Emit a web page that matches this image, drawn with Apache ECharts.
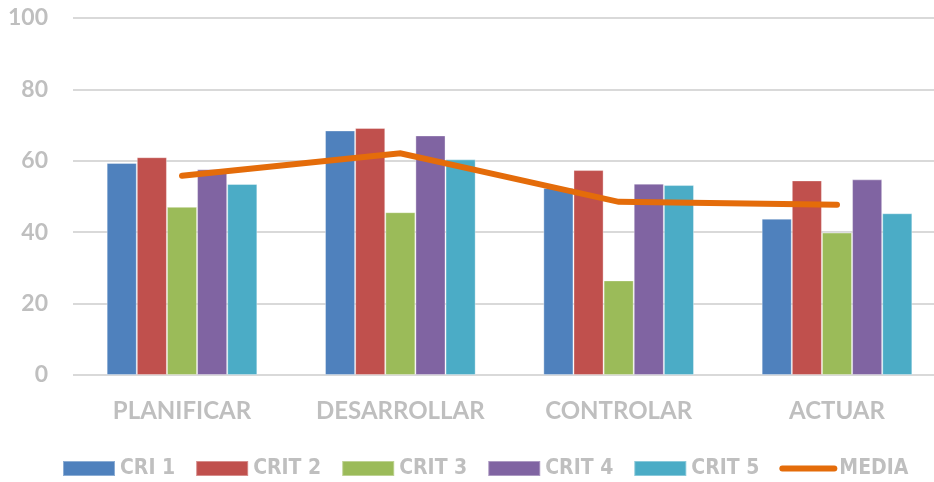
<!DOCTYPE html>
<html>
<head>
<meta charset="utf-8">
<script src="https://cdn.jsdelivr.net/npm/echarts@6/dist/echarts.min.js"></script>
<style>
html,body{margin:0;padding:0;background:#fff;}
#chart{width:934px;height:482px;}
</style>
</head>
<body>
<div id="chart"></div>
<script>
const categories = ['PLANIFICAR', 'DESARROLLAR', 'CONTROLAR', 'ACTUAR'];
const cri1 = [59.4, 68.5, 52.4, 43.8];
const crit2 = [61.0, 69.2, 57.4, 54.5];
const crit3 = [47.1, 45.6, 26.5, 39.9];
const crit4 = [57.6, 67.1, 53.6, 54.8];
const crit5 = [53.5, 60.4, 53.2, 45.3];
const media = [55.8, 62.1, 48.5, 47.7];
const seriesNames = ['CRI 1', 'CRIT 2', 'CRIT 3', 'CRIT 4', 'CRIT 5', 'MEDIA'];
const yTicks = [0, 20, 40, 60, 80, 100];
const colors = ['#4F81BD', '#C0504D', '#9BBB59', '#8064A2', '#4BACC6', '#E46C0A'];

const chart = echarts.init(document.getElementById('chart'));
const labelGrey = '#BFBFBF';
const barData = [cri1, crit2, crit3, crit4, crit5];
const series = barData.map((d, i) => ({
  name: seriesNames[i],
  type: 'bar',
  xAxisIndex: 1,
  yAxisIndex: 1,
  data: d,
  barGap: '0%',
  barCategoryGap: '31%',
  clip: false,
  itemStyle: { color: colors[i], borderColor: 'rgba(255,255,255,0.35)', borderWidth: 1 },
  emphasis: { disabled: true }
}));
series.push({
  name: seriesNames[5],
  type: 'line',
  xAxisIndex: 1,
  yAxisIndex: 1,
  data: media,
  symbol: 'none',
  clip: false,
  lineStyle: { color: colors[5], width: 6, cap: 'round', join: 'miter' },
  itemStyle: { color: colors[5] },
  emphasis: { disabled: true },
  z: 5
});

chart.setOption({
  animation: false,
  color: colors,
  grid: [
    { left: 73, top: 18, right: 0, height: 357, containLabel: false },
    { left: 182, top: 18, width: 655, height: 357, containLabel: false }
  ],
  legend: {
    top: 458,
    left: 62,
    width: 900,
    padding: 0,
    itemWidth: 52,
    itemHeight: 15,
    itemGap: 20,
    textStyle: { color: labelGrey, fontSize: 21, fontWeight: 'bold', fontFamily: 'DejaVu Sans Condensed', padding: [0, 0, 0, 0] },
    data: seriesNames.map((n, i) => i === 5
      ? { name: n, itemStyle: { opacity: 0 }, lineStyle: { width: 6, cap: 'round', color: colors[5], opacity: 1 } }
      : { name: n, icon: 'rect' })
  },
  xAxis: [
    {
      type: 'value', gridIndex: 0, min: 0, max: 1,
      axisLine: { show: false }, axisTick: { show: false }, axisLabel: { show: false }, splitLine: { show: false }
    },
    {
      type: 'category', gridIndex: 1,
      data: categories,
      boundaryGap: false,
      axisLine: { show: false },
      axisTick: { show: false },
      axisLabel: { color: labelGrey, fontSize: 24, fontWeight: 'bold', fontFamily: 'Lato', margin: 24, interval: 0 }
    }
  ],
  yAxis: [
    {
      type: 'value', gridIndex: 0,
      min: 0, max: 100, interval: 20,
      axisLine: { show: false },
      axisTick: { show: false },
      splitLine: { lineStyle: { color: '#D9D9D9', width: 2 } },
      axisLabel: { color: labelGrey, fontSize: 23, fontWeight: 'bold', fontFamily: 'Lato', margin: 25,
        formatter: v => yTicks.includes(v) ? String(v) : '' }
    },
    {
      type: 'value', gridIndex: 1,
      min: 0, max: 100, interval: 20,
      axisLine: { show: false }, axisTick: { show: false }, axisLabel: { show: false }, splitLine: { show: false }
    }
  ],
  series: series
});
</script>
</body>
</html>
